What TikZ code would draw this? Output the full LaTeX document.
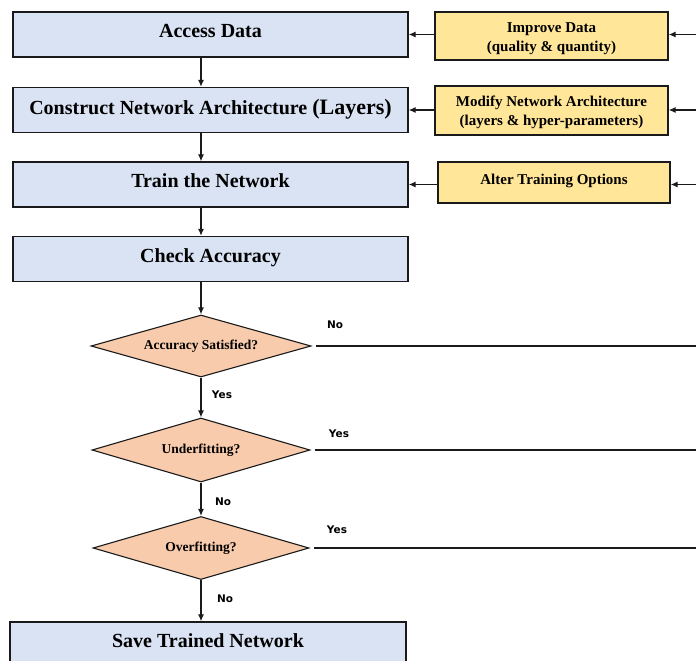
\documentclass[tikz,border=0pt]{standalone}
\usepackage{fontspec}
\setmainfont{Liberation Serif}
\newfontfamily\labelfont{DejaVu Sans}
\usetikzlibrary{shapes.geometric,arrows.meta}

\definecolor{stepblue}{HTML}{DAE3F3}
\definecolor{fixyellow}{HTML}{FFE699}
\definecolor{decorange}{HTML}{F8CBAD}
\definecolor{edge}{HTML}{1A1A1A}

\begin{document}
\begin{tikzpicture}[x=1pt,y=-1pt,
  stepbox/.style={rectangle,draw=edge,line width=1.3pt,fill=stepblue,
    minimum width=395pt,minimum height=45pt,inner sep=0pt,
    font=\fontsize{20}{24}\selectfont\bfseries,text height=0.7em,text depth=0.1em},
  fixbox/.style={rectangle,draw=edge,line width=1.3pt,fill=fixyellow,
    minimum width=233pt,minimum height=48pt,inner sep=0pt,align=center,
    font=\fontsize{15}{19}\selectfont\bfseries},
  decision/.style={diamond,draw=edge,line width=1.1pt,fill=decorange,aspect=3.5,
    inner sep=0pt,font=\fontsize{13.5}{16}\selectfont\bfseries},
  flow/.style={draw=edge,line width=1.2pt,-{Latex[length=7pt,width=6pt]}},
  branch/.style={draw=edge,line width=1.2pt},
  tag/.style={font=\labelfont\bfseries\fontsize{10.5}{12}\selectfont,inner sep=0pt}
]
\useasboundingbox (0,0) rectangle (696,661);
\clip (0,0) rectangle (696,661);

% main pipeline
\node[stepbox] (access) at (210.5,34.5) {Access Data};
\node[stepbox,text height=0.9em,text depth=0em] (arch) at (210.5,110)
  {Construct Network Architecture {\fontsize{22}{24}\selectfont(Layers)}};
\node[stepbox] (train)  at (210.5,184.5){Train the Network};
\node[stepbox] (check)  at (210.5,259)  {Check Accuracy};
\node[stepbox,minimum width=396pt] (save) at (208,644.5) {Save Trained Network};

% remedies
\node[fixbox] (improve) at (551.5,36)  {\rule{0pt}{1.05em}Improve Data\\(quality \& quantity)};
\node[fixbox,minimum height=49pt] (modify) at (551.5,110.5) {\rule{0pt}{0.95em}Modify Network Architecture\\(layers \& hyper-parameters)};
\node[fixbox,minimum width=232pt,minimum height=41pt,text depth=0.55em] (alter) at (554,182.5) {Alter Training Options};

% decisions
\node[decision,minimum width=220pt,minimum height=62pt] (sat)   at (201,346) {Accuracy Satisfied?};
\node[decision,minimum width=218pt,minimum height=64pt] (under) at (201,450) {Underfitting?};
\node[decision,minimum width=216pt,minimum height=63pt] (over)  at (201,548) {Overfitting?};

% helper coordinates: vertical spine and right-hand rim
\coordinate (spine) at (201,0);
\coordinate (rim) at (696,0);

% vertical flow
\draw[flow] (access.south -| spine) -- (arch.north -| spine);
\draw[flow] (arch.south -| spine) -- (train.north -| spine);
\draw[flow] (train.south -| spine) -- (check.north -| spine);
\draw[flow] (check.south -| spine) -- (sat.north);
\draw[flow] (sat.south) -- (under.north);
\draw[flow] (under.south) -- (over.north);
\draw[flow] (over.south) -- (save.north -| over.south);

% remedies feed back into the pipeline
\draw[flow] (access.east -| improve.west) -- (access.east);
\draw[flow] (arch.east -| modify.west) -- (arch.east);
\draw[flow] (train.east -| alter.west) -- (train.east);
\draw[flow] (access.east -| rim) -- (access.east -| improve.east);
\draw[flow] (arch.east -| rim) -- (arch.east -| modify.east);
\draw[flow] (train.east -| rim) -- (train.east -| alter.east);

% decision branches leaving to the right
\draw[branch] ([xshift=4pt]sat.east) -- (sat.east -| rim);
\draw[branch] ([xshift=4pt]under.east) -- (under.east -| rim);
\draw[branch] ([xshift=4pt]over.east) -- (over.east -| rim);

% branch labels
\node[tag] (l1) at (335,325) {No};
\node[tag] (l2) at (222,395) {Yes};
\node[tag] (l3) at (339,434) {Yes};
\node[tag] (l4) at (223,502) {No};
\node[tag] (l5) at (337,530) {Yes};
\node[tag] (l6) at (225,599) {No};
\end{tikzpicture}
\end{document}
